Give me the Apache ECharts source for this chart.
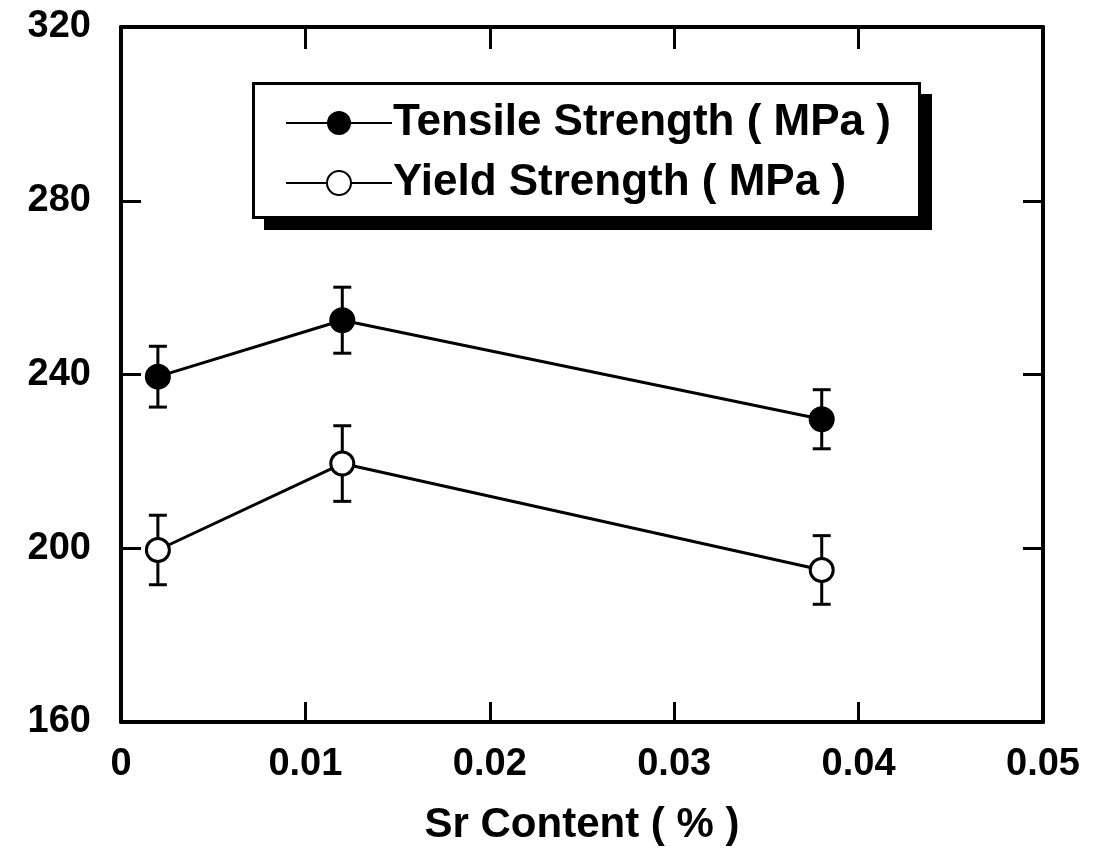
<!DOCTYPE html>
<html>
<head>
<meta charset="utf-8">
<script src="https://cdn.jsdelivr.net/npm/echarts@6/dist/echarts.min.js"></script>
<style>
  html, body { margin: 0; padding: 0; background: #fff; }
  #chart { width: 1101px; height: 856px; }
</style>
</head>
<body>
<div id="chart"></div>
<script>
// ---- data ----
const srContent   = [0.002, 0.012, 0.038];
const tensile     = [239.5, 252.5, 229.7];
const tensileErr  = [7.0, 7.6, 6.8];
const yieldStr    = [199.6, 219.5, 195.0];
const yieldErr    = [8.0, 8.7, 7.9];
const xTicks      = [0, 0.01, 0.02, 0.03, 0.04, 0.05];
const yTicks      = [160, 200, 240, 280, 320];
const seriesNames = ['Tensile Strength ( MPa )', 'Yield Strength ( MPa )'];
const xAxisTitle  = 'Sr Content ( % )';

const chart = echarts.init(document.getElementById('chart'), null, { renderer: 'canvas' });

const FONT = "'Liberation Sans', Arial, Helvetica, sans-serif";

function pairs(xs, ys) { return xs.map((x, i) => [x, ys[i]]); }
function errData(xs, ys, es) { return xs.map((x, i) => [x, ys[i] - es[i], ys[i] + es[i]]); }

function errRender(params, api) {
  const x = api.value(0);
  const lo = api.coord([x, api.value(1)]);
  const hi = api.coord([x, api.value(2)]);
  const hw = 9;
  const style = { stroke: '#000', lineWidth: 3, fill: null };
  return {
    type: 'group',
    children: [
      { type: 'line', shape: { x1: lo[0], y1: lo[1], x2: hi[0], y2: hi[1] }, style: style },
      { type: 'line', shape: { x1: lo[0] - hw, y1: lo[1], x2: lo[0] + hw, y2: lo[1] }, style: style },
      { type: 'line', shape: { x1: hi[0] - hw, y1: hi[1], x2: hi[0] + hw, y2: hi[1] }, style: style }
    ]
  };
}

const axisLineStyle = { color: '#000', width: 4 };
const tickStyle = { color: '#000', width: 3 };

chart.setOption({
  backgroundColor: '#fff',
  animation: false,
  grid: { left: 121, right: 58, top: 27, bottom: 134, containLabel: false },
  graphic: [
    { type: 'rect', z: 5, shape: { x: 264, y: 94, width: 668, height: 136 }, style: { fill: '#000' } },
    { type: 'rect', z: 6, shape: { x: 253.5, y: 83.5, width: 666, height: 134 }, style: { fill: '#fff', stroke: '#000', lineWidth: 3 } }
  ],
  legend: {
    orient: 'vertical',
    left: 256,
    top: 85,
    z: 10,
    data: seriesNames,
    itemWidth: 106,
    itemHeight: 30,
    itemGap: 12,
    padding: [14, 10, 10, 29],
    selectedMode: false,
    textStyle: { fontFamily: FONT, fontWeight: 'bold', fontSize: 44, color: '#000', lineHeight: 48, padding: [0, 0, 0, -4] }
  },
  xAxis: [{
    type: 'value',
    min: 0, max: 0.05, interval: 0.01,
    position: 'bottom',
    name: xAxisTitle,
    nameLocation: 'middle',
    nameGap: 82,
    nameTextStyle: { fontFamily: FONT, fontWeight: 'bold', fontSize: 42, color: '#000' },
    axisLine: { show: true, onZero: false, lineStyle: axisLineStyle },
    axisTick: { show: true, inside: true, length: 20, lineStyle: tickStyle },
    axisLabel: {
      fontFamily: FONT, fontWeight: 'bold', fontSize: 38, color: '#000', margin: 24,
      formatter: v => { const t = xTicks.find(tk => Math.abs(tk - v) < 1e-9); return t === undefined ? '' : String(t); }
    },
    splitLine: { show: false }
  }, {
    type: 'value',
    min: 0, max: 0.05, interval: 0.01,
    position: 'top',
    axisLine: { show: true, onZero: false, lineStyle: axisLineStyle },
    axisTick: { show: true, inside: true, length: 22, lineStyle: tickStyle },
    axisLabel: { show: false },
    splitLine: { show: false }
  }],
  yAxis: [{
    type: 'value',
    min: 160, max: 320, interval: 40,
    position: 'left',
    axisLine: { show: true, onZero: false, lineStyle: axisLineStyle },
    axisTick: { show: true, inside: true, length: 20, lineStyle: tickStyle },
    axisLabel: {
      fontFamily: FONT, fontWeight: 'bold', fontSize: 38, color: '#000', margin: 30,
      padding: [14, 0, 0, 0],
      formatter: v => (yTicks.indexOf(v) >= 0 ? String(v) : '')
    },
    splitLine: { show: false }
  }, {
    type: 'value',
    min: 160, max: 320, interval: 40,
    position: 'right',
    axisLine: { show: true, onZero: false, lineStyle: axisLineStyle },
    axisTick: { show: true, inside: true, length: 20, lineStyle: tickStyle },
    axisLabel: { show: false },
    splitLine: { show: false }
  }],
  series: [
    {
      type: 'custom',
      name: 'tensileErr',
      xAxisIndex: 0, yAxisIndex: 0,
      renderItem: errRender,
      data: errData(srContent, tensile, tensileErr),
      z: 1
    },
    {
      type: 'custom',
      name: 'yieldErr',
      xAxisIndex: 0, yAxisIndex: 0,
      renderItem: errRender,
      data: errData(srContent, yieldStr, yieldErr),
      z: 1
    },
    {
      type: 'line',
      name: seriesNames[0],
      data: pairs(srContent, tensile),
      symbol: 'circle',
      symbolSize: 26,
      lineStyle: { color: '#000', width: 3 },
      itemStyle: { color: '#000', borderColor: '#000', borderWidth: 0 },
      z: 3
    },
    {
      type: 'line',
      name: seriesNames[1],
      data: pairs(srContent, yieldStr),
      symbol: 'circle',
      symbolSize: 23,
      lineStyle: { color: '#000', width: 3 },
      itemStyle: { color: '#fff', borderColor: '#000', borderWidth: 3 },
      z: 3
    }
  ]
});
</script>
</body>
</html>
